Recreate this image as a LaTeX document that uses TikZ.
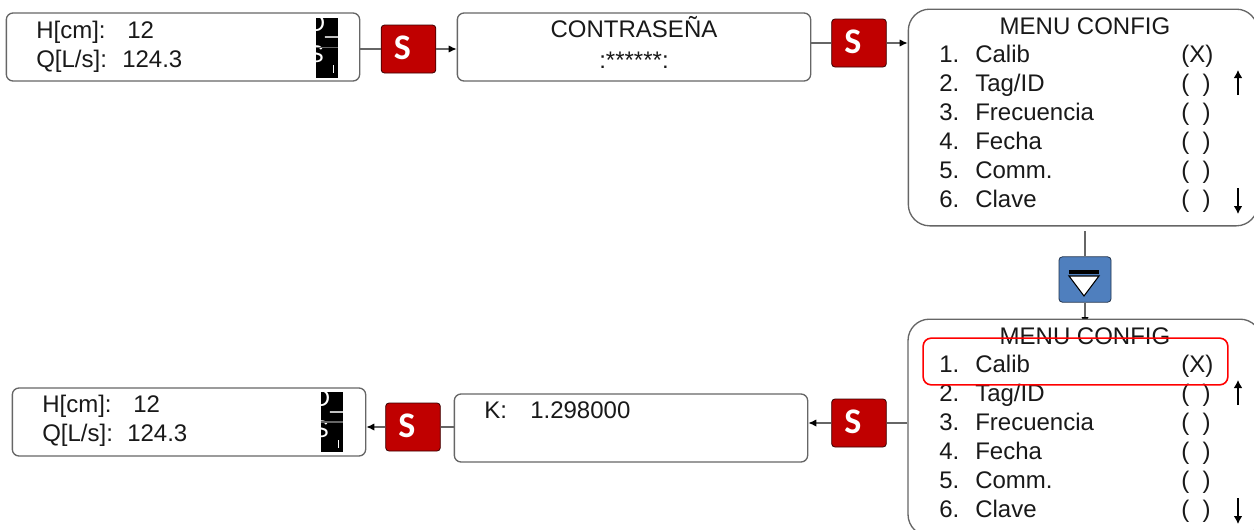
\documentclass[tikz,border=0pt]{standalone}
\usepackage{fontspec}
\setmainfont{Liberation Sans}
\newfontfamily\keyfont{Carlito}
\usetikzlibrary{arrows.meta,backgrounds}
\definecolor{panelgray}{HTML}{666666}
\definecolor{sred}{HTML}{C00000}
\definecolor{kblue}{HTML}{4F7FBE}
\newcommand{\keyS}{\raisebox{1.8pt}{\fontsize{27}{27}\selectfont\keyfont\bfseries S}\kern 9pt}
\tikzset{
 panel/.style={draw=panelgray,line width=1pt,rounded corners=5pt,fill=white,inner sep=0pt},
 bigpanel/.style={draw=panelgray,line width=1pt,rounded corners=16pt,fill=white,inner sep=0pt},
 skey/.style={draw=black!70!sred,line width=.6pt,fill=sred,rounded corners=2.5pt,minimum width=41pt,minimum height=36pt,inner sep=0pt,text=white},
 dkey/.style={draw=black!60!kblue,line width=.6pt,fill=kblue,rounded corners=2.5pt,minimum width=39pt,minimum height=34pt,inner sep=0pt},
 lnk/.style={draw=panelgray,line width=.9pt},
 arr/.style={lnk,-{Latex[black,length=6pt,width=5.5pt]}},
 txt/.style={font=\fontsize{18}{20}\selectfont,inner sep=0pt,anchor=base west,text=black!90},
 blk/.style={fill=black,inner sep=0pt,minimum width=16.5pt,minimum height=45pt},
 wht/.style={font=\fontsize{18}{20}\selectfont,inner sep=0pt,anchor=base west,text=white},
}
\begin{document}
\begin{tikzpicture}[x=0.75pt,y=-0.75pt]
\useasboundingbox (0,0) rectangle (1254,529);
% panels
\node[panel,minimum width=265pt,minimum height=51pt] (a) at (183,47) {};
\node[panel,minimum width=265pt,minimum height=51pt] (b) at (634,47) {};
\node[bigpanel,minimum width=262pt,minimum height=162.5pt] (c) at (1083,117.5) {};
\node[bigpanel,minimum width=265pt,minimum height=162.5pt] (d) at (1084.7,427.5) {};
\node[panel,minimum width=265pt,minimum height=51pt] (e) at (631,428) {};
\node[panel,minimum width=265pt,minimum height=51pt] (f) at (189,422) {};
% black blocks
\node[blk] (ba) at (327,47.5) {};
\node[blk] (bf) at (332,422) {};
\begin{scope}
\clip (316,17) rectangle (338,78);
\node[wht] at (307.5,31) {D};
\node[wht] at (325,33) {\_};
\node[wht] at (307.5,62) {S};
\draw[white,line width=.7pt] (333,65) -- (333,73);
\end{scope}
\begin{scope}
\clip (321,392) rectangle (343,452);
\node[wht] at (312.5,406) {D};
\node[wht] at (330,408) {\_};
\node[wht] at (312.5,437) {S};
\draw[white,line width=.7pt] (338,440) -- (338,448);
\end{scope}
% keys
\node[skey] (s1) at (408.5,49) {\keyS};
\node[skey] (s2) at (859,43) {\keyS};
\node[dkey] (k) at (1085,279.5) {};
\node[skey] (s3) at (859,423) {\keyS};
\node[skey] (s4) at (413,427) {\keyS};
\fill[black] (1069,270) rectangle (1099,274);
\draw[black,fill=white,line width=.8pt] (1069,276) -- (1099,276) -- (1084,296) -- cycle;
% connectors
\draw[lnk] (a.east |- s1.west) -- (s1.west);
\draw[arr] (s1.east) -- (b.west |- s1.east);
\draw[lnk] (b.east |- s2.west) -- (s2.west);
\draw[arr] (s2.east) -- (c.west |- s2.east);
\draw[lnk] (k.north) -- ++(0,-25);
\begin{scope}[on background layer]
\draw[arr,shorten >=-5pt] (k.south) -- (d.north -| k.south);
\end{scope}
\draw[arr] (s3.west) -- (e.east |- s3.west);
\draw[lnk] (d.west |- s3.east) -- (s3.east);
\draw[lnk] (e.west |- s4.east) -- (s4.east);
\draw[arr] (s4.west) -- (f.east |- s4.west);
\draw[lnk] (ba.west) -- (ba.east);
\draw[lnk] (bf.west) -- (bf.east);
% panel a
\node[txt] at (36,38) {H[cm]:};
\node[txt] at (127,38) {12};
\node[txt] at (36,67) {Q[L/s]:};
\node[txt] at (122,67) {124.3};
% panel f
\node[txt] at (42,412) {H[cm]:};
\node[txt] at (133,412) {12};
\node[txt] at (42,441) {Q[L/s]:};
\node[txt] at (127,441) {124.3};
% panel b
\node[txt,anchor=base] at (634,37) {CONTRASEÑA};
\node[txt,anchor=base] at (634,68) {:******:};
% panel e
\node[txt] at (484,418) {K:};
\node[txt] at (530,418) {1.298000};
% menu c
\node[txt,anchor=base] at (1085,34) {MENU CONFIG};
\foreach \yy/\n/\lab/\m in {62/1./Calib/(X),91/2./Tag\slash ID/(\ \ ),120/3./Frecuencia/(\ \ ),149/4./Fecha/(\ \ ),178/5./Comm./(\ \ ),207/6./Clave/(\ \ )}{
 \node[txt] at (939,\yy) {\n};
 \node[txt] at (975,\yy) {\lab};
 \node[txt] at (1181,\yy) {\m};
}
\foreach \yy/\n/\lab/\m in {372/1./Calib/(X),401/2./Tag\slash ID/(\ \ ),430/3./Frecuencia/(\ \ ),459/4./Fecha/(\ \ ),488/5./Comm./(\ \ ),517/6./Clave/(\ \ )}{
 \node[txt] at (939,\yy) {\n};
 \node[txt] at (975,\yy) {\lab};
 \node[txt] at (1181,\yy) {\m};
}
\node[txt,anchor=base] at (1085,344) {MENU CONFIG};
% scroll arrows
\coordinate (u1a) at (1238,95); \coordinate (u1b) at (1238,70);
\coordinate (d1a) at (1238,188); \coordinate (d1b) at (1238,214);
\coordinate (u2a) at (1238,405); \coordinate (u2b) at (1238,380);
\coordinate (d2a) at (1238,498); \coordinate (d2b) at (1238,524);
\foreach \p/\q in {u1a/u1b,d1a/d1b,u2a/u2b,d2a/d2b}
 \draw[black,line width=.9pt,-{Latex[length=6pt,width=6.5pt]}] (\p) -- (\q);
% highlight
\node[draw=red,line width=1.2pt,rounded corners=6pt,minimum width=228.5pt,minimum height=35pt,inner sep=0pt] (hl) at (1075.5,361.5) {};
\end{tikzpicture}
\end{document}
